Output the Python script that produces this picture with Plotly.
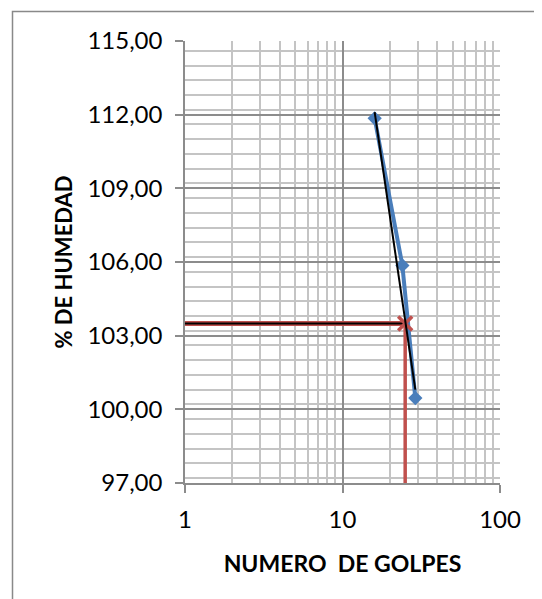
import plotly.graph_objects as go

# Data
golpes = [16, 24, 29]
humedad = [111.85, 105.86, 100.46]
trend_x = [16, 29]
trend_y = [112.1, 100.8]
lim_golpes = 25
lim_humedad = 103.5
x_min, y_min = 1, 97
x_ticks = [1, 10, 100]
x_ticklabels = ["1", "10", "100"]
y_ticks = [97, 100, 103, 106, 109, 112, 115]

BLUE = "#4A7EBB"
RED = "#C0504D"
FONT = "Lato"

fig = go.Figure()

# Red vertical reference line
fig.add_trace(go.Scatter(x=[lim_golpes, lim_golpes], y=[y_min, lim_humedad], mode="lines",
                         line=dict(color=RED, width=3.5), hoverinfo="skip", showlegend=False))
# Horizontal reference line (red with black core)
fig.add_trace(go.Scatter(x=[x_min, lim_golpes], y=[lim_humedad, lim_humedad], mode="lines",
                         line=dict(color=RED, width=5), hoverinfo="skip", showlegend=False))
fig.add_trace(go.Scatter(x=[x_min, lim_golpes], y=[lim_humedad, lim_humedad], mode="lines",
                         line=dict(color="#000000", width=2), hoverinfo="skip", showlegend=False))
# Data series
fig.add_trace(go.Scatter(x=golpes, y=humedad, mode="lines+markers",
                         line=dict(color=BLUE, width=4),
                         marker=dict(symbol="diamond", size=11, color=BLUE), showlegend=False))
# Red X marker
fig.add_trace(go.Scatter(x=[lim_golpes], y=[lim_humedad], mode="markers",
                         marker=dict(symbol="x-thin", size=14, line=dict(color=RED, width=3.5)),
                         showlegend=False))
# Trendline
fig.add_trace(go.Scatter(x=trend_x, y=trend_y, mode="lines",
                         line=dict(color="#000000", width=2), showlegend=False))

# Page body has an 8px default margin, so the figure is offset by 8px
OFF = 8
L, R, T, B = 185, 500, 41, 483.3
W, H = R - L, B - T
def px(v):
    return (v - L) / W
def py(v):
    return (B - v) / H
fig.add_shape(type="rect", xref="paper", yref="paper",
              x0=px(12.5), x1=px(560), y0=py(11.5), y1=py(620),
              line=dict(color="#898989", width=1.5), fillcolor="rgba(0,0,0,0)", layer="below")

FW, FH = 542 - OFF, 599 - OFF
fig.update_layout(
    width=FW, height=FH,
    margin=dict(l=L - OFF, r=FW + OFF - R, t=T - OFF, b=FH + OFF - B),
    paper_bgcolor="white", plot_bgcolor="white",
    separators=",.",
    font=dict(family=FONT, size=20, color="#000000"),
    xaxis=dict(type="log", range=[0, 2], tickvals=x_ticks, ticktext=x_ticklabels,
               showgrid=True, gridcolor="#8C8C8C", gridwidth=1.5,
               minor=dict(dtick="D1", showgrid=True, gridcolor="#C4C4C4", gridwidth=1.5,
                          ticks=""),
               ticks="outside", ticklen=8, tickcolor="#8C8C8C", tickwidth=1.5,
               ticklabelstandoff=6,
               showline=True, linecolor="#8C8C8C", linewidth=1.5,
               tickfont=dict(family=FONT, size=24),
               title=dict(text="<b>NUMERO  DE GOLPES</b>", font=dict(family=FONT, size=23),
                          standoff=24),
               zeroline=False, automargin=False),
    yaxis=dict(range=[97, 115], tickvals=y_ticks, tickformat=".2f",
               showgrid=True, gridcolor="#8C8C8C", gridwidth=1.5,
               minor=dict(dtick=0.6, showgrid=True, gridcolor="#C4C4C4", gridwidth=1.5,
                          ticks=""),
               ticks="outside", ticklen=8, tickcolor="#8C8C8C", tickwidth=1.5,
               ticklabelstandoff=8,
               showline=True, linecolor="#8C8C8C", linewidth=1.5,
               tickfont=dict(family=FONT, size=24),
               title=dict(text="<b>% DE HUMEDAD</b>", font=dict(family=FONT, size=22),
                          standoff=9),
               zeroline=False, automargin=False),
)

fig.write_html("out.html")
